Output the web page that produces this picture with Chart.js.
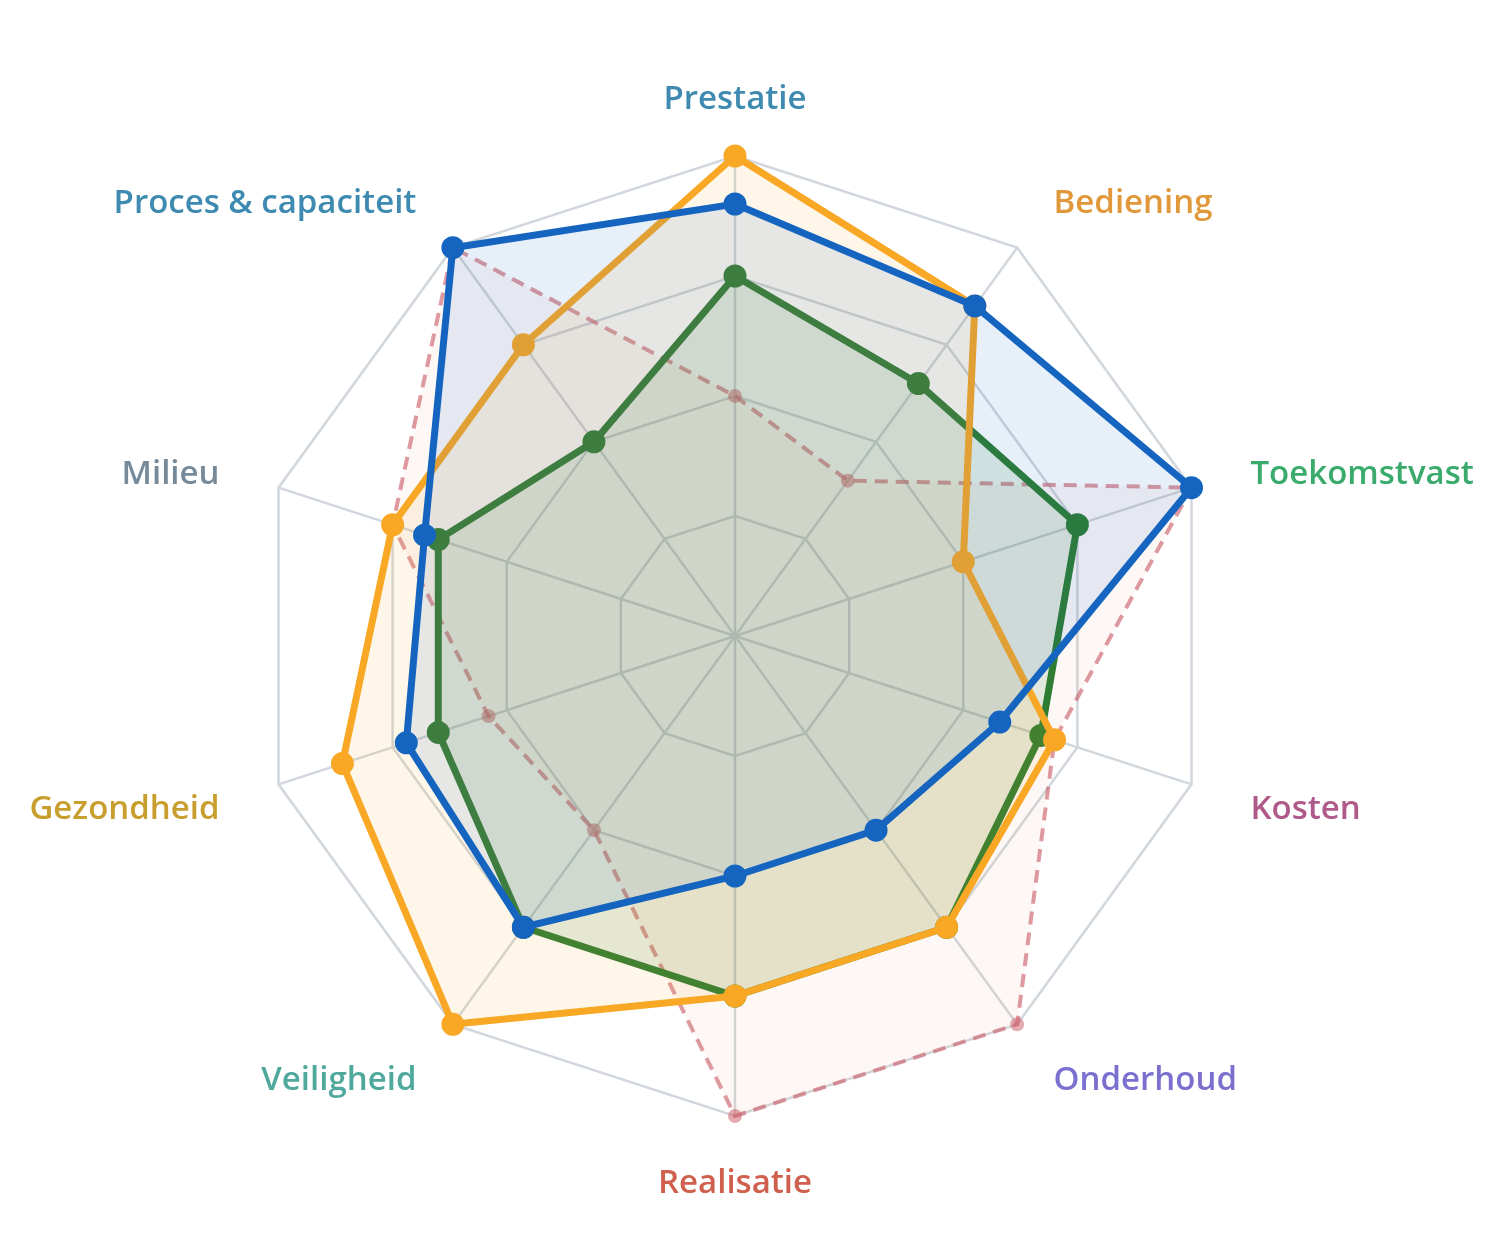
<!DOCTYPE html>
<html>
<head>
<meta charset="utf-8">
<script src="https://cdn.jsdelivr.net/npm/chart.js@4.4.1/dist/chart.umd.min.js"></script>
<style>
  html, body { margin: 0; padding: 0; background: #ffffff; }
  #wrap { width: 1500px; height: 1252px; position: relative; }
</style>
</head>
<body>
<div id="wrap"><canvas id="c"></canvas></div>
<script>
// ---- data ----
const categories = ["Prestatie", "Bediening", "Toekomstvast", "Kosten", "Onderhoud",
                    "Realisatie", "Veiligheid", "Gezondheid", "Milieu", "Proces & capaciteit"];
const labelColors = ["#3E8AB0", "#E0983A", "#3AAB6C", "#B05A8A", "#7B70D0",
                     "#D0604E", "#4FA89C", "#C89F2E", "#768A9A", "#3E8AB0"];
const seriesNames = ["Variant A", "Variant B", "Variant C", "Variant D"];
const seriesBlue   = [90, 85, 100, 58, 50, 50, 75, 72, 68, 100];
const seriesYellow = [100, 85, 50, 70, 75, 75, 100, 86, 75, 75];
const seriesGreen  = [75, 65, 75, 67, 75, 75, 75, 65, 65, 50];
const seriesRed    = [50, 40, 100, 70, 100, 100, 50, 54, 75, 100];
const scaleMin = 0, scaleMax = 100, scaleStep = 25;

const labelPlugin = {
  id: 'outerLabels',
  afterDraw(chart) {
    const scale = chart.scales.r;
    const ctx = chart.ctx;
    ctx.save();
    ctx.font = '600 33px "Open Sans", "Noto Sans", sans-serif';
    ctx.textBaseline = 'middle';
    categories.forEach((txt, i) => {
      const p = scale.getPointPosition(i, scale.drawingArea + 62);
      const dx = p.x - scale.xCenter;
      ctx.textAlign = Math.abs(dx) < 2 ? 'center' : (dx > 0 ? 'left' : 'right');
      ctx.fillStyle = labelColors[i];
      ctx.fillText(txt, p.x, p.y + 6);
    });
    ctx.restore();
  }
};

new Chart(document.getElementById('c'), {
  type: 'radar',
  data: {
    labels: categories,
    datasets: [
      {
        label: seriesNames[0], data: seriesBlue,
        borderColor: '#1565C0', backgroundColor: 'rgba(21,101,192,0.10)',
        borderWidth: 7, pointRadius: 10, pointBorderWidth: 3,
        pointBackgroundColor: '#1565C0', pointBorderColor: '#1565C0',
        fill: true, clip: false
      },
      {
        label: seriesNames[1], data: seriesYellow,
        borderColor: '#F9A825', backgroundColor: 'rgba(249,168,37,0.10)',
        borderWidth: 7, pointRadius: 10, pointBorderWidth: 3,
        pointBackgroundColor: '#F9A825', pointBorderColor: '#F9A825',
        fill: true, clip: false
      },
      {
        label: seriesNames[2], data: seriesGreen,
        borderColor: '#2E7D32', backgroundColor: 'rgba(46,125,50,0.13)',
        borderWidth: 7, pointRadius: 10, pointBorderWidth: 3,
        pointBackgroundColor: '#2E7D32', pointBorderColor: '#2E7D32',
        fill: true, clip: false
      },
      {
        label: seriesNames[3], data: seriesRed,
        borderColor: 'rgba(205,100,110,0.65)', backgroundColor: 'rgba(230,150,120,0.07)',
        borderWidth: 4, borderDash: [13, 8], pointRadius: 7, pointBorderWidth: 0,
        pointBackgroundColor: 'rgba(205,100,110,0.55)', pointBorderColor: 'rgba(0,0,0,0)',
        fill: true, clip: false
      }
    ]
  },
  options: {
    responsive: true,
    maintainAspectRatio: false,
    animation: false,
    layout: { padding: { top: 156, bottom: 136, left: 145, right: 175 } },
    plugins: { legend: { display: false }, tooltip: { enabled: false } },
    elements: { line: { tension: 0 } },
    scales: {
      r: {
        min: scaleMin, max: scaleMax,
        ticks: { display: false, stepSize: scaleStep },
        grid: { color: '#D1D7DC', lineWidth: 2.5 },
        angleLines: { display: true, color: '#D1D7DC', lineWidth: 2.5 },
        pointLabels: { display: false }
      }
    }
  },
  plugins: [labelPlugin]
});
</script>
</body>
</html>
